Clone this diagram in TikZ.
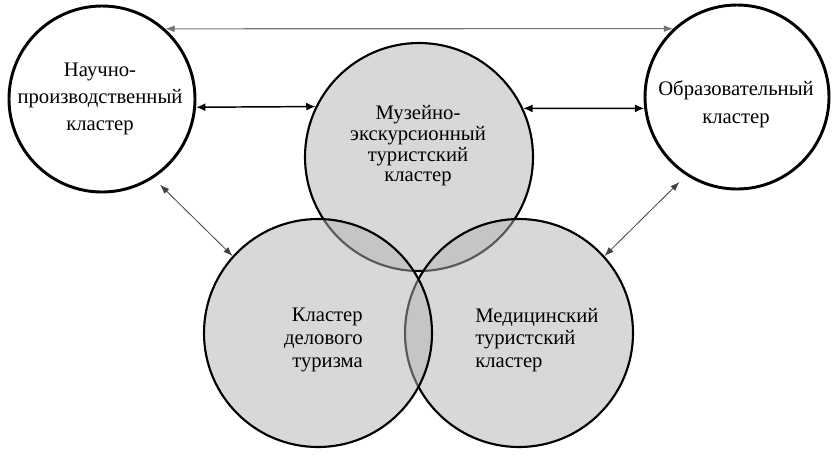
\documentclass[tikz,border=0pt]{standalone}
\usepackage{fontspec}
\setmainfont{Liberation Serif}
\usetikzlibrary{arrows.meta}
\begin{document}
\begin{tikzpicture}[x=0.75pt,y=-0.75pt,
  whitecl/.style={circle,draw=black,line width=2.2pt,fill=white,inner sep=0pt},
  graycl/.style={circle,draw=black,line width=1.6pt,fill=black!30,fill opacity=0.5,inner sep=0pt},
  txt/.style={inner sep=0pt,text=black,font=\fontsize{15.5}{#1}\selectfont},
  bigarrow/.style={{Latex[length=7pt,width=6pt]}-{Latex[length=7pt,width=6pt]},line width=1.1pt,black},
  thinarrow/.style={{Latex[length=7pt,width=5pt]}-{Latex[length=7pt,width=5pt]},line width=0.8pt,black!55},
  diagarrow/.style={{Latex[length=7pt,width=5pt]}-{Latex[length=7pt,width=5pt]},line width=0.6pt,black!75}]
\useasboundingbox (0,0) rectangle (834,455);
% circles
\node[whitecl,minimum size=139.5pt] (L) at (102,99) {};
\node[whitecl,minimum size=138pt] (R) at (737,97) {};
\node[graycl,minimum size=171pt] (M) at (419,157) {};
\node[graycl,minimum size=171pt] (BR) at (519,333) {};
\node[graycl,minimum size=171pt] (BL) at (318,333) {};
% texts
\node[txt=20pt,align=center] (tL) at (100,99) {Научно-\\производственный\\кластер};
\node[txt=21pt,align=center] (tR) at (736,104) {Образовательный\\кластер};
\node[txt=15.5pt,align=center] (tM) at (418,146) {Музейно-\\экскурсионный\\туристский\\кластер};
\node[txt=17pt,align=right,anchor=east] (tBL) at (363,340) {Кластер\\делового\\туризма};
\node[txt=17pt,align=left,anchor=west] (tBR) at (475,340) {Медицинский\\туристский\\кластер};
% arrows
\draw[thinarrow] (L.48) -- (R.133);
\draw[bigarrow] (L.-5.5) -- (M.154.5);
\draw[bigarrow] (M.25.5) -- (R.187);
\draw[diagarrow,shorten <=7pt] (L.-57) -- (BL.138);
\draw[diagarrow,shorten <=7pt] (R.-123) -- (BR.42);
\end{tikzpicture}
\end{document}
